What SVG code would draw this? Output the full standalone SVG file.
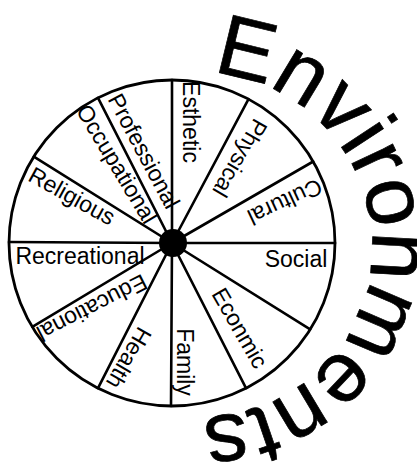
<svg xmlns="http://www.w3.org/2000/svg" xmlns:xlink="http://www.w3.org/1999/xlink" width="417" height="468" viewBox="0 0 417 468">
<style>
.rim{fill:none;stroke:#000;stroke-width:2.8}
.spoke{stroke:#000;stroke-width:2.6;stroke-linecap:round}
.lbl{font-family:"Liberation Sans",Arial,sans-serif;font-size:23px;fill:#000;text-anchor:middle;dominant-baseline:central}
.big{font-family:"Liberation Sans",Arial,sans-serif;font-size:86px;fill:#000;stroke:#000;stroke-width:0.7}
</style>
<defs>
<path id="arc" d="M 114,96 A 172 172 0 1 1 114,394"/>
</defs>
<rect width="417" height="468" fill="#fff"/>
<g id="wheel">
<circle class="rim" cx="172" cy="243" r="163"/>
</g>
<g id="connectors">
<line class="spoke" x1="172" y1="243" x2="335" y2="243"/>
<line class="spoke" x1="172" y1="243" x2="310.2" y2="329.4"/>
<line class="spoke" x1="172" y1="243" x2="246" y2="388.2"/>
<line class="spoke" x1="172" y1="243" x2="171" y2="406"/>
<line class="spoke" x1="172" y1="243" x2="98" y2="388.2"/>
<line class="spoke" x1="172" y1="243" x2="32.3" y2="326.9"/>
<line class="spoke" x1="172" y1="243" x2="9" y2="242"/>
<line class="spoke" x1="172" y1="243" x2="33.8" y2="156.6"/>
<line class="spoke" x1="172" y1="243" x2="98" y2="97.8"/>
<line class="spoke" x1="172" y1="243" x2="172" y2="80"/>
<line class="spoke" x1="172" y1="243" x2="248.5" y2="99.1"/>
<line class="spoke" x1="172" y1="243" x2="313.2" y2="161.5"/>
</g>
<g id="hub"><circle cx="173" cy="243" r="14" fill="#000"/></g>
<g id="esthetic"><text class="lbl" transform="translate(191,122) rotate(90)">Esthetic</text></g>
<g id="physical"><text class="lbl" transform="translate(240,158) rotate(120)">Physical</text></g>
<g id="cultural"><text class="lbl" transform="translate(285,202) rotate(155)">Cultural</text></g>
<g id="social"><text class="lbl" transform="translate(296,259)">Social</text></g>
<g id="economic"><text class="lbl" transform="translate(240,328) rotate(60)">Econmic</text></g>
<g id="family"><text class="lbl" transform="translate(185,362) rotate(90)">Family</text></g>
<g id="health"><text class="lbl" transform="translate(129,358) rotate(120)">Health</text></g>
<g id="educational"><text class="lbl" transform="translate(92,308) rotate(153)">Educational</text></g>
<g id="recreational"><text class="lbl" transform="translate(80,256)">Recreational</text></g>
<g id="religious"><text class="lbl" transform="translate(72,196) rotate(29)">Religious</text></g>
<g id="occupational"><text class="lbl" transform="translate(117,164) rotate(59)">Occupational</text></g>
<g id="professional"><text class="lbl" transform="translate(144,151) rotate(62)">Professional</text></g>
<g id="title"><text class="big"><textPath xlink:href="#arc" href="#arc" startOffset="102">Environments</textPath></text></g>
</svg>
